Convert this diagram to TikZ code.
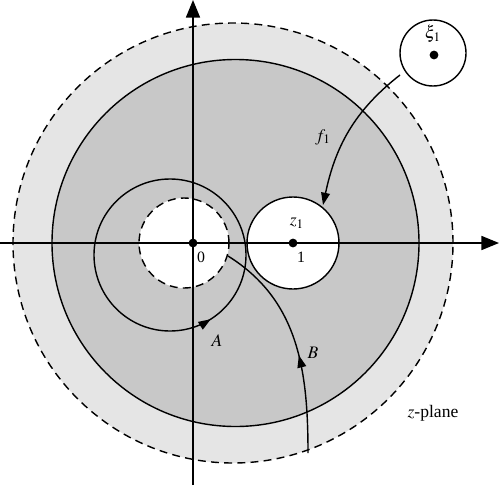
\documentclass[tikz,border=0pt]{standalone}
\usepackage{amsmath}
\usepackage{mathptmx}
\usepackage{fontspec}
\setmainfont{Liberation Serif}
\usepackage{tikz}
\usetikzlibrary{arrows.meta,decorations.markings}
\definecolor{lightshade}{gray}{.9}
\definecolor{darkshade}{gray}{.785}

\begin{document}
\begin{tikzpicture}[
    line width=.8pt,
    longdash/.style={dash pattern=on 4.5pt off 3pt},
    axis/.style={-{Triangle[length=10pt,width=8pt]}},
    midarrow/.style={postaction={decorate,decoration={markings,
        mark=at position #1 with {\arrow{Triangle[length=7pt,width=5pt]}}}}}
  ]
            \useasboundingbox (-3.86,-4.84) rectangle (6.14,4.86);

            % Shaded areas
            \fill[lightshade] (0.8,0) circle (4.4);
            \draw[longdash] (0.8,0) circle (4.4);
            \filldraw[fill=darkshade] (0.85,0) circle (3.67);
            \fill[white] (-0.18,0) circle (0.9);
            \draw[longdash] (-0.18,0) circle (0.9);
            \filldraw[fill=white] (2,0) circle (0.92);

            % Axes
            \coordinate (xs) at (-3.86,0);
            \coordinate (xe) at (6.12,0);
            \coordinate (ys) at (0,-4.84);
            \coordinate (ye) at (0,4.86);
            \draw[axis] (xs) -- (xe);
            \draw[axis] (ys) -- (ye);

            % Points
            \node[circle,fill,inner sep=0pt,minimum size=5pt] (o) at (0,0) {};
            \node[circle,fill,inner sep=0pt,minimum size=5pt] (z) at (2,0) {};
            \filldraw[fill=white] (4.8,3.8) circle (0.66);
            \node[circle,fill,inner sep=0pt,minimum size=5pt] (xi) at (4.82,3.76) {};

            % Contours
            \draw[midarrow=0.84] (-0.46,-0.24) circle (1.52);
            \coordinate (bs) at (2.3,-4.2);
            \coordinate (be) at (0.7,-0.26);
            \draw[midarrow=0.44] (bs) to[out=90,in=-32] (be);
            \coordinate (fs) at (4.14,3.36);
            \coordinate (fe) at (2.6,0.76);
            \draw[-{Triangle[length=7pt,width=5pt]}] (fs) to[out=218,in=78] (fe);

            % Labels
            \node at (0.16,-0.28) {\small 0};
            \node at (2.16,-0.28) {\small 1};
            \node at (2.08,0.4) {$z_1$};
            \node[inner sep=0pt] at (4.8,4.18) {$\xi_1$};
            \node at (2.6,2.12) {$f_1$};
            \node at (0.48,-1.96) {$A$};
            \node at (2.4,-2.2) {$B$};
            \node at (4.8,-3.4) {$z$-plane};
        \end{tikzpicture}
\end{document}
